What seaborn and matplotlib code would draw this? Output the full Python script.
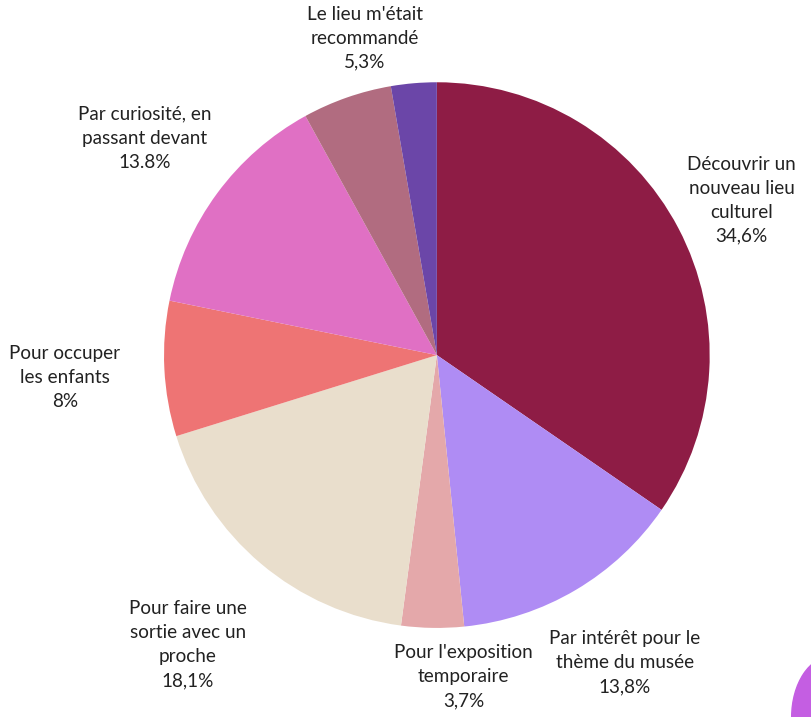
import matplotlib
matplotlib.use("Agg")
import matplotlib.pyplot as plt
from matplotlib.patches import Ellipse
import seaborn as sns

# Motivations de visite (part des répondants, %)
labels = [
    "Découvrir un\nnouveau lieu\nculturel\n34,6%",
    "Par intérêt pour le\nthème du musée\n13,8%",
    "Pour l'exposition\ntemporaire\n3,7%",
    "Pour faire une\nsortie avec un\nproche\n18,1%",
    "Pour occuper\nles enfants\n8%",
    "Par curiosité, en\npassant devant\n13.8%",
    "Le lieu m'était\nrecommandé\n5,3%",
    "",
]
values = [34.6, 13.8, 3.7, 18.1, 8.0, 13.8, 5.3, 2.7]
colors = ["#8E1C45", "#AF8CF4", "#E4A8AA", "#E9DECC",
          "#EE7474", "#E070C4", "#B16C80", "#6B46A8"]

# label centres, in units of the pie radius
label_pos = [(1.117, 0.568), (0.689, -1.128), (0.099, -1.179), (-0.912, -1.062),
             (-1.363, -0.081), (-1.07, 0.795), (-0.264, 1.161), (0, 0)]

sns.set_theme(style="white")
plt.rcParams["font.family"] = ["Lato", "DejaVu Sans"]

fig = plt.figure(figsize=(8.12, 7.17), dpi=100)
ax = fig.add_axes([0.202, 0.124, 0.672, 0.7615])

palette = sns.color_palette(colors)
ax.pie(values, colors=palette, startangle=90, counterclock=False,
       radius=1.0, wedgeprops=dict(linewidth=0))
ax.set_xlim(-1, 1)
ax.set_ylim(-1, 1)
ax.set_aspect("equal")
ax.axis("off")

for lab, (x, y) in zip(labels, label_pos):
    if lab:
        ax.text(x, y, lab, ha="center", va="center", fontsize=13.6,
                color="#222222", linespacing=1.5)

# decorative blob at bottom right corner
fig.patches.append(Ellipse((1.025, 0.0), 0.1, 0.17, transform=fig.transFigure,
                           color="#C45EE2", zorder=0))

fig.savefig("out.png", dpi=100)
